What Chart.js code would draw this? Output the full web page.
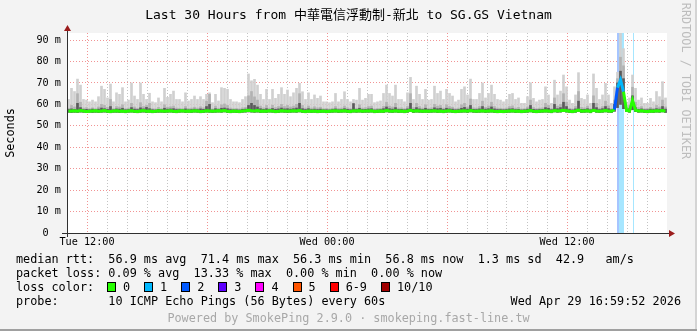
<!DOCTYPE html>
<html lang="zh-Hant">
<head>
<meta charset="UTF-8">
<title>SmokePing - 中華電信浮動制-新北 to SG.GS Vietnam</title>
<script src="https://cdn.jsdelivr.net/npm/chart.js@4.4.1/dist/chart.umd.min.js"></script>
<style>
    html, body { margin: 0; padding: 0; background: #f3f3f3; }
    #graph {
        position: relative; width: 697px; height: 331px; overflow: hidden;
        background: #f3f3f3; color: #000;
        font-family: 'DejaVu Sans Mono', 'Noto Sans CJK TC', monospace;
    }
    #graph canvas { position: absolute; left: 0; top: 0; }
    #title { position: absolute; left: 0; top: 6px; width: 697px; text-align: center; font-size: 13px; line-height: 18px; white-space: pre; }
    .txt { position: absolute; white-space: pre; font-size: 11.8px; line-height: 14px; }
    #ylabel { left: -40px; top: 126px; width: 100px; text-align: center; transform: rotate(-90deg); }
    #mark { left: 586px; top: 74px; width: 200px; text-align: center; transform: rotate(90deg); color: #bdbdbd; }
    #powered { left: 0; width: 697px; text-align: center; color: #a8a8a8; }
    .sw { display: inline-block; width: 7px; height: 8px; border: 1px solid #000; vertical-align: -1px; margin-right: 7px; }
    .lab { margin-right: 14px; }
    #edgeR { position: absolute; left: 695px; top: 0; width: 2px; height: 331px; background: #d4d4d4; }
    #edgeB { position: absolute; left: 0; top: 329px; width: 697px; height: 2px; background: #a0a0a0; }
</style>
</head>
<body>
<div id="graph">
    <canvas id="chart" width="697" height="331"></canvas>
    <div id="title">Last 30 Hours from 中華電信浮動制-新北 to SG.GS Vietnam</div>
    <div class="txt" id="ylabel">Seconds</div>
    <div class="txt" id="mark">RRDTOOL / TOBI OETIKER</div>
    <div class="txt" style="left:16px; top:252px">median rtt:  56.9 ms avg  71.4 ms max  56.3 ms min  56.8 ms now  1.3 ms sd  42.9   am/s</div>
    <div class="txt" style="left:16px; top:266px">packet loss: 0.09 % avg  13.33 % max  0.00 % min  0.00 % now</div>
    <div class="txt" style="left:16px; top:280px">loss color:</div>
    <div class="txt" id="losslegend" style="left:107px; top:280px"></div>
    <div class="txt" style="left:16px; top:294px">probe:       10 ICMP Echo Pings (56 Bytes) every 60s</div>
    <div class="txt" style="left:480px; width:201px; text-align:right; top:294px">Wed Apr 29 16:59:52 2026</div>
    <div class="txt" id="powered" style="top:311px">Powered by SmokePing 2.9.0 · smokeping.fast-line.tw</div>
    <div id="edgeR"></div>
    <div id="edgeB"></div>
</div>

<script>
    // one sample every 9 minutes, starting Tue 11:00 (30 hours = 200 samples)
    const SAMPLE_MIN = 9;
    const SPAN_MIN = 1800;
    const Y_TOP = 93.3;

    const median = [
        56.8,56.9,57.0,56.8,57.1,56.9,56.7,56.8,56.9,57.0,56.8,56.9,57.1,56.8,56.7,56.9,57.0,56.8,56.9,56.7,
        56.9,57.0,56.8,56.7,56.9,57.1,56.8,56.9,56.7,56.8,57.0,56.9,56.8,56.9,57.0,56.8,56.7,56.9,57.0,56.8,
        56.9,56.8,57.0,56.9,56.7,56.8,57.0,56.9,56.8,56.9,57.0,56.9,57.1,56.8,56.7,56.9,56.8,56.7,56.9,57.0,
        57.2,57.0,56.9,57.1,56.8,56.9,56.8,57.0,56.9,56.7,56.8,57.0,56.9,56.8,56.9,57.0,56.9,57.1,56.8,56.7,
        56.9,56.8,56.9,56.7,56.8,56.9,56.7,56.8,56.9,57.0,56.8,56.9,57.0,56.8,56.7,57.0,56.9,57.0,56.8,56.9,
        56.9,57.0,56.7,56.8,56.9,56.8,57.1,56.9,56.8,57.0,56.8,56.9,56.7,56.9,57.2,56.8,57.0,56.9,56.8,56.9,
        56.8,56.9,57.0,56.8,56.9,56.7,56.9,57.0,56.8,56.7,56.8,56.9,57.0,56.8,57.1,56.9,56.8,56.9,57.0,56.8,
        56.9,57.0,56.8,56.7,56.8,56.7,56.8,56.9,57.0,56.8,56.9,56.7,56.8,56.9,57.1,56.8,56.7,56.8,56.9,57.0,
        56.9,56.7,57.1,56.9,57.0,57.2,57.0,56.8,56.7,56.9,57.3,56.8,56.9,57.0,56.7,57.2,56.9,56.8,56.9,57.1,
        56.9,56.8,57.6,67.8,71.4,65.9,57.2,56.9,62.0,57.3,56.9,57.0,56.8,56.7,56.9,56.8,57.0,56.9,57.1,56.8
    ];
    const smokeMin = [
        56.3,56.2,56.3,56.2,56.4,56.3,56.2,56.3,56.2,56.3,56.2,56.3,56.4,56.2,56.1,56.3,56.3,56.2,56.3,56.1,
        56.3,56.4,56.2,56.1,56.3,56.4,56.2,56.3,56.1,56.2,56.3,56.3,56.2,56.3,56.4,56.2,56.1,56.3,56.4,56.2,
        56.3,56.2,56.4,56.3,56.1,56.2,56.4,56.3,56.2,56.3,56.4,56.3,56.5,56.2,56.1,56.3,56.2,56.1,56.3,56.4,
        56.5,56.4,56.3,56.4,56.2,56.3,56.2,56.4,56.3,56.1,56.2,56.4,56.3,56.2,56.3,56.4,56.3,56.5,56.2,56.1,
        56.3,56.2,56.3,56.1,56.2,56.3,56.1,56.2,56.3,56.4,56.2,56.3,56.4,56.2,56.1,56.4,56.3,56.4,56.2,56.3,
        56.3,56.4,56.1,56.2,56.3,56.2,56.5,56.3,56.2,56.4,56.2,56.3,56.1,56.3,56.6,56.2,56.4,56.3,56.2,56.3,
        56.2,56.3,56.4,56.2,56.3,56.1,56.3,56.4,56.2,56.1,56.2,56.3,56.4,56.2,56.5,56.3,56.2,56.3,56.4,56.2,
        56.3,56.4,56.2,56.1,56.2,56.1,56.2,56.3,56.4,56.2,56.3,56.1,56.2,56.3,56.5,56.2,56.1,56.2,56.3,56.4,
        56.3,56.1,56.5,56.3,56.4,56.6,56.4,56.2,56.1,56.3,56.7,56.2,56.3,56.4,56.1,56.6,56.3,56.2,56.3,56.5,
        56.3,56.2,56.8,58.5,60.0,58.0,56.6,56.3,57.5,56.6,56.3,56.4,56.2,56.1,56.3,56.2,56.4,56.3,56.5,56.2
    ];
    const smokeDark = [
        57.6,57.9,57.7,60.5,58.5,57.6,57.7,57.5,57.8,57.5,57.8,58.3,58.0,57.7,59.0,57.5,57.9,57.8,58.2,57.5,
        57.6,58.5,57.8,57.6,58.4,57.9,58.6,58.0,57.5,57.4,57.7,57.5,58.2,57.8,57.9,58.0,57.6,57.6,57.5,57.9,
        57.5,57.6,57.8,57.6,57.9,57.7,59.0,60.0,57.4,58.0,57.6,58.2,58.3,58.0,57.6,57.5,57.5,57.4,57.7,57.8,
        59.5,60.5,59.5,58.8,58.0,57.7,58.0,57.6,58.1,57.7,57.9,58.3,57.9,58.0,57.8,58.0,58.3,60.5,58.0,57.6,
        58.0,57.6,57.8,57.6,57.8,57.5,57.5,57.4,57.6,57.9,57.5,57.6,58.0,57.7,57.5,60.4,57.6,58.2,57.6,57.7,
        57.9,58.0,57.4,57.5,57.6,58.0,58.8,58.0,57.8,58.5,57.6,57.7,57.5,57.9,60.5,57.7,58.5,57.9,57.6,58.2,
        57.6,57.7,58.4,58.0,58.2,57.6,58.2,57.9,57.8,57.5,57.6,58.2,58.6,57.8,59.5,57.7,57.6,57.9,59.0,57.8,
        58.0,58.8,57.9,57.6,57.6,57.5,57.6,57.9,58.0,57.6,57.7,57.4,57.5,57.8,59.5,57.7,57.5,57.6,57.7,58.5,
        58.2,57.5,60.0,58.0,58.5,61.0,59.0,57.6,57.4,57.9,61.5,57.7,57.7,58.0,57.5,60.5,58.5,57.6,58.0,59.0,
        58.0,57.5,60.0,70.0,75.5,72.0,57.8,58.0,64.0,58.5,57.7,57.9,57.5,57.5,57.8,57.6,58.0,57.8,59.0,57.8
    ];
    const smokeMid = [
        58.2,59.5,58.8,65.0,61.0,58.3,58.5,58.0,58.4,58.0,58.8,60.0,59.5,58.6,62.3,58.0,59.0,58.8,59.8,58.0,
        58.3,60.5,58.8,58.2,60.8,59.0,59.5,60.5,58.0,57.9,58.6,58.0,59.8,58.7,58.9,59.2,58.3,58.2,58.0,59.0,
        58.1,58.3,58.7,58.3,58.9,58.4,61.5,64.7,57.9,59.2,58.2,59.8,60.2,59.5,58.3,58.0,58.1,57.9,58.4,58.6,
        64.0,66.0,63.5,62.0,59.2,58.4,59.5,58.3,59.6,58.5,59.0,60.0,59.0,59.5,58.8,59.2,60.0,65.0,59.5,58.3,
        59.2,58.3,58.9,58.4,58.7,58.0,58.1,57.9,58.2,59.0,58.1,58.3,59.2,58.4,58.0,58.6,58.2,59.8,58.3,58.5,
        59.0,59.2,57.9,58.1,58.2,59.1,61.0,59.2,58.8,60.5,58.3,58.4,58.0,59.0,65.0,58.5,60.5,59.0,58.3,59.8,
        58.2,58.4,60.0,59.2,59.5,58.3,59.8,59.0,58.7,58.0,58.3,59.8,60.5,58.8,62.5,58.4,58.3,59.0,61.5,58.6,
        59.2,61.0,59.0,58.3,58.2,58.0,58.3,59.0,59.3,58.3,58.6,57.9,58.0,58.8,62.0,58.5,58.0,58.3,58.4,60.5,
        59.5,58.0,63.0,59.2,60.0,65.0,61.0,58.2,57.9,59.0,66.0,58.6,58.4,59.2,58.0,64.0,60.5,58.3,59.0,61.5,
        59.3,58.0,62.0,72.0,82.0,78.0,58.5,59.5,68.0,61.0,58.5,59.0,58.0,58.1,58.6,58.2,59.5,58.8,62.0,58.8
    ];
    const smokeMax = [
        62.3,67.5,66.0,71.8,69.0,62.3,62.0,61.2,62.0,61.2,63.6,68.5,67.0,63.0,69.5,61.2,65.4,64.7,67.8,61.2,
        62.0,70.0,63.9,62.3,70.0,64.7,62.3,65.2,61.2,60.8,63.0,61.2,67.5,63.3,64.7,66.2,62.3,62.3,61.2,65.4,
        61.6,62.3,63.9,62.3,63.6,62.3,64.7,65.4,60.8,64.7,61.6,67.8,67.5,67.0,62.3,61.2,61.2,60.8,62.3,63.6,
        74.2,71.0,71.7,69.0,64.7,62.3,67.0,62.3,67.0,62.8,64.7,67.8,64.7,66.7,63.6,65.4,67.5,69.8,65.9,62.3,
        65.4,62.3,64.4,62.8,63.9,61.2,61.2,60.8,61.2,65.1,61.2,62.3,65.9,62.3,61.2,62.3,62.0,67.5,62.0,62.8,
        64.7,64.7,60.8,61.2,61.6,65.1,69.0,65.1,63.9,69.0,62.3,62.3,61.2,65.4,72.6,62.3,68.5,64.7,62.3,67.0,
        62.0,62.3,68.5,65.1,66.2,62.3,67.0,65.1,63.9,61.2,62.0,67.0,68.2,64.4,71.8,62.3,62.3,65.1,70.0,63.0,
        65.1,69.0,64.7,62.3,62.0,61.2,62.3,64.7,65.1,62.3,63.0,60.5,60.5,63.6,70.1,62.8,61.2,62.0,62.3,68.2,
        64.4,60.5,71.3,64.4,66.2,73.7,68.2,62.0,60.5,64.4,74.8,62.8,62.3,64.4,60.5,74.2,67.5,62.3,64.4,69.8,
        64.4,60.5,68.2,75.0,93.3,86.0,61.0,63.0,73.7,67.5,62.0,63.0,60.5,60.5,62.8,61.2,66.0,63.6,70.6,63.0
    ];

    // packet loss periods, in minutes from the start
    const lossFrom  = [1650, 1656, 1698];
    const lossTo    = [1656, 1671, 1701];
    const lossCount = [2, 1, 1];

    const lossLegendLabels = ['0', '1', '2', '3', '4', '5', '6-9', '10/10'];
    const lossLegendColors = ['#26ff00', '#00b8ff', '#0059ff', '#5e00ff', '#ff00ff', '#ff5500', '#ff0000', '#a00000'];

    const xTickMinutes = [60, 780, 1500];
    const xTickLabels = ['Tue 12:00', 'Wed 00:00', 'Wed 12:00'];
    const yTickValues = [0, 10, 20, 30, 40, 50, 60, 70, 80, 90];
    const yTickLabels = ['0  ', '10 m', '20 m', '30 m', '40 m', '50 m', '60 m', '70 m', '80 m', '90 m'];

    // loss color legend
    document.getElementById('losslegend').innerHTML = lossLegendLabels.map((l, i) =>
        '<span class="sw" style="background:' + lossLegendColors[i] + '"></span><span class="lab">' + l + '</span>'
    ).join('');

    const MAJOR = 'rgba(230, 60, 60, 0.55)';
    const MINOR = '#c4c4c4';
    const AXIS_FONT = { family: 'DejaVu Sans Mono', size: 10.2 };

    function at(i) { return i * SAMPLE_MIN + SAMPLE_MIN / 2; }
    function bars(lo, hi) { return lo.map((v, i) => ({ x: at(i), y: [v, hi[i]] })); }
    function lossAt(m) {
        for (let k = 0; k < lossFrom.length; k++) {
            if (m >= lossFrom[k] && m < lossTo[k]) return lossCount[k];
        }
        return 0;
    }
    function tint(hex, f) {
        const n = parseInt(hex.slice(1), 16);
        const c = [n >> 16, (n >> 8) & 255, n & 255].map(v => Math.round(v + (255 - v) * f));
        return 'rgb(' + c.join(',') + ')';
    }

    const bandSets = lossFrom.map((f, k) => ({
        type: 'line',
        data: [{ x: f, y: Y_TOP }, { x: lossTo[k], y: Y_TOP }],
        borderWidth: 0,
        pointRadius: 0,
        fill: 'origin',
        backgroundColor: tint(lossLegendColors[lossCount[k]], 0.65),
        order: 5 + k
    }));

    // thin columns with a 1px gap, like the per-pixel smoke of rrdtool
    const smokeBar = { type: 'bar', barThickness: 2, grouped: false, borderWidth: 0 };

    const frame = {
        id: 'frame',
        beforeDraw(chart) {
            const { ctx, chartArea: a } = chart;
            ctx.save();
            ctx.fillStyle = '#ffffff';
            ctx.fillRect(a.left, a.top, a.right - a.left, a.bottom - a.top);
            ctx.restore();
        },
        afterDraw(chart) {
            const { ctx, chartArea: a } = chart;
            const x0 = a.left + 0.5, y0 = a.bottom + 0.5;
            ctx.save();
            ctx.strokeStyle = '#303030';
            ctx.lineWidth = 1;
            ctx.beginPath();
            ctx.moveTo(x0, a.bottom + 4);
            ctx.lineTo(x0, a.top - 4);
            ctx.moveTo(a.left - 5, y0);
            ctx.lineTo(a.right + 3, y0);
            ctx.stroke();
            ctx.fillStyle = '#9b1c1c';
            ctx.beginPath();
            ctx.moveTo(x0, a.top - 8);
            ctx.lineTo(x0 - 3.5, a.top - 2);
            ctx.lineTo(x0 + 3.5, a.top - 2);
            ctx.closePath();
            ctx.fill();
            ctx.beginPath();
            ctx.moveTo(a.right + 8, y0);
            ctx.lineTo(a.right + 2, y0 - 3.5);
            ctx.lineTo(a.right + 2, y0 + 3.5);
            ctx.closePath();
            ctx.fill();
            ctx.restore();
        }
    };

    new Chart(document.getElementById('chart'), {
        type: 'bar',
        data: {
            datasets: [
                {
                    type: 'line',
                    label: 'median rtt',
                    data: median.map((v, i) => ({ x: at(i), y: v })),
                    borderColor: lossLegendColors[0],
                    borderWidth: 3,
                    pointRadius: 0,
                    tension: 0,
                    fill: false,
                    order: 0,
                    segment: { borderColor: c => lossLegendColors[lossAt(c.p1.parsed.x)] }
                },
                Object.assign({ data: bars(smokeMin, smokeDark), backgroundColor: '#5a5a5a', order: 1 }, smokeBar),
                Object.assign({ data: bars(smokeMin, smokeMid), backgroundColor: '#b2b2b2', order: 2 }, smokeBar),
                Object.assign({ data: bars(smokeMin, smokeMax), backgroundColor: '#d0d0d0', order: 3 }, smokeBar),
                ...bandSets
            ]
        },
        options: {
            responsive: false,
            devicePixelRatio: 1,
            animation: false,
            events: [],
            layout: { padding: { top: 33, right: 30, bottom: 78, left: 0 } },
            plugins: { legend: { display: false }, tooltip: { enabled: false }, title: { display: false } },
            scales: {
                x: {
                    type: 'linear',
                    min: 0,
                    max: SPAN_MIN,
                    offset: false,
                    afterFit(s) { s.height = 20; },
                    afterBuildTicks(s) {
                        const t = [];
                        for (let m = 60; m < SPAN_MIN; m += 60) t.push({ value: m });
                        s.ticks = t;
                    },
                    grid: {
                        offset: false,
                        drawTicks: false,
                        lineWidth: 1,
                        color: c => ((c.tick.value - 60) % 360 === 0 ? MAJOR : MINOR)
                    },
                    border: { display: false, dash: [1, 2] },
                    ticks: {
                        autoSkip: false,
                        maxRotation: 0,
                        padding: 3,
                        color: '#000',
                        font: AXIS_FONT,
                        callback: v => {
                            const k = xTickMinutes.indexOf(v);
                            return k >= 0 ? xTickLabels[k] : '';
                        }
                    }
                },
                y: {
                    type: 'linear',
                    min: 0,
                    max: Y_TOP,
                    afterFit(s) { s.width = 67; },
                    afterBuildTicks(s) {
                        const t = [];
                        for (let v = 5; v <= 90; v += 5) t.push({ value: v });
                        t.unshift({ value: 0 });
                        s.ticks = t;
                    },
                    grid: {
                        drawTicks: false,
                        lineWidth: 1,
                        color: c => (c.tick.value % 10 === 0 ? MAJOR : MINOR)
                    },
                    border: { display: false, dash: [1, 2] },
                    ticks: {
                        padding: 6,
                        color: '#000',
                        font: AXIS_FONT,
                        callback: v => {
                            const k = yTickValues.indexOf(v);
                            return k >= 0 ? yTickLabels[k] : '';
                        }
                    }
                }
            }
        },
        plugins: [frame]
    });
</script>
</body>
</html>
